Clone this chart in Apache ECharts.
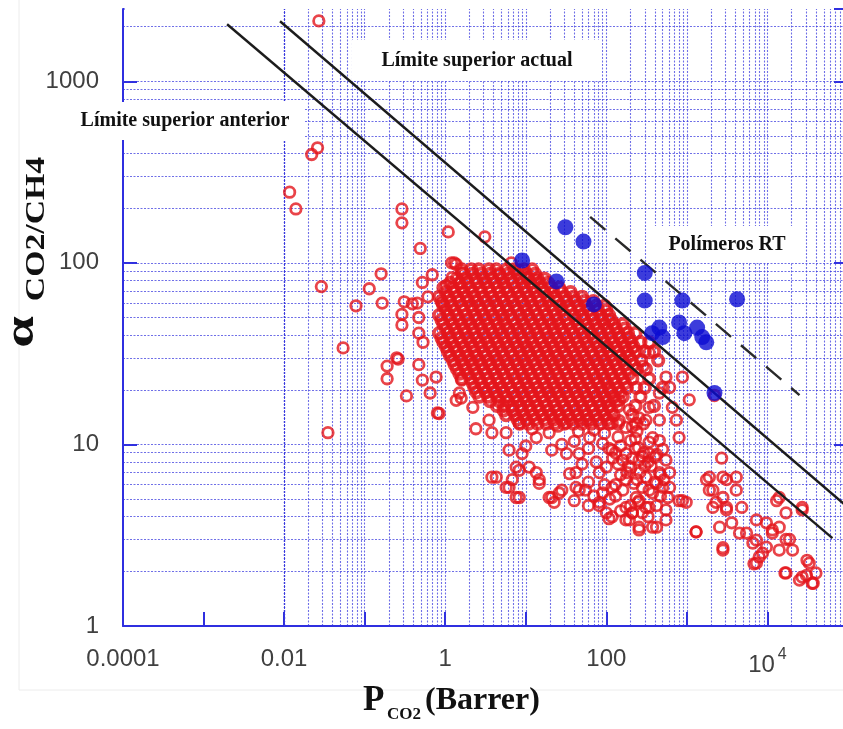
<!DOCTYPE html>
<html>
<head>
<meta charset="utf-8">
<script src="https://cdn.jsdelivr.net/npm/echarts@6/dist/echarts.min.js"></script>
<style>
html,body{margin:0;padding:0;background:#fff;}
#chart{width:843px;height:729px;}
</style>
</head>
<body>
<div id="chart"></div>
<script>
// ---------- axis ticks ----------
const xTickValues = [0.0001, 0.01, 1, 100, 10000];
const xTickLabels = ['0.0001', '0.01', '1', '100', '10^4'];
const yTickValues = [1, 10, 100, 1000];
const yTickLabels = ['1', '10', '100', '1000'];
const xMin = 0.0001, xMax = 100000;
const yMin = 1, yMax = 2500;

// ---------- boundary lines [P_CO2, alpha] ----------
const upperBound1991 = [[0.00196, 2060], [64100, 3.05]];
const upperBound2008 = [[0.0089, 2140], [100000, 4.5]];
const boundRT = [[63, 179], [25000, 18.7]];

// ---------- RT polymers (blue filled) [P_CO2, alpha] ----------
const rtPolymers = [[9.0,103],[31,157],[52,131],[24,79],[70,59],[300,88],[300,62],[880,62],[4200,63],
  [455,44],[500,39],[800,47],[930,41],[1340,44],[1550,39],[1740,36.5],[2200,19.2],[370,41]];

// ---------- other polymers (red open) [P_CO2, alpha] ----------
const redOutliers = [[0.027,2150],[0.022,395],[0.026,430],[0.0117,245],[0.014,198],[0.029,74],[0.054,34],
  [0.035,11.6],[0.078,58],[0.114,72],[0.16,87],[0.165,60],[0.29,198],[0.29,166],[0.49,120],[1.09,148],[3.1,139],
  [0.19,27],[0.19,23],[0.26,29.5],[0.33,18.5],[0.47,27.5],[0.52,22.6],[0.65,19.2],[0.8,14.9],[1.58,18],[1.6,22.6],
  [0.29,52],[0.29,45.5],[0.31,61],[0.45,60],[0.47,41],[0.53,36.5],[0.52,78],[0.69,86],[0.61,65],[0.39,59.5],
  [0.47,50],[0.77,23.5],[0.25,30],[1.2,100],[1.6,88],[1.37,98],[1.03,75],[0.92,60],[1.22,83],[1.5,77],
  [8.3,91],[10.4,83],[13.5,80],[4.7,86],[6.6,100],[1.3,100]];

// dense cluster, read row by row: [alpha, [P_CO2 ...]]
const clusterRows = [
  [92,  [1.6,2.1,2.6,3.5,4.3,5.8,7.2,9.5,12]],
  [87,  [1.7,2.2,2.8,3.6,4.7,6.0,7.9,10.2,13]],
  [82,  [1.4,1.8,2.4,3.0,3.8,5.1,6.4,8.6,10.5,14,17]],
  [77.5,[1.15,1.5,1.9,2.45,3.2,4.15,5.3,6.9,9.0,11.5,15,19]],
  [73,  [0.95,1.25,1.6,2.0,2.7,3.4,4.5,5.6,7.5,9.4,12.5,15.5,21,26]],
  [69,  [1.02,1.31,1.7,2.2,2.8,3.6,4.7,6.0,7.9,10.2,13,17,22,28,36]],
  [65,  [0.84,1.1,1.4,1.85,2.3,3.0,3.8,5.0,6.6,8.3,11,14,18.5,23,31,39,50]],
  [61.5,[0.9,1.15,1.5,1.92,2.45,3.2,4.15,5.3,6.9,9.0,11.5,14.9,19.2,24.5,32,41.5,53,69]],
  [58,  [0.95,1.2,1.6,2.1,2.6,3.5,4.4,5.8,7.3,9.6,12,16,20,27,34,45,56,75,95]],
  [55,  [1.02,1.31,1.7,2.2,2.8,3.6,4.7,6.0,7.9,10.2,13,17,22,28,36,47,60,79,100]],
  [51.5,[0.84,1.1,1.4,1.8,2.35,3.0,3.9,5.1,6.4,8.5,10.7,14,18,23.5,30,40,50,66,84,108]],
  [48.5,[0.9,1.15,1.5,1.92,2.45,3.2,4.15,5.3,6.9,9.0,11.5,14.9,19.2,24.5,32,41.5,53,69,89,115]],
  [46,  [0.95,1.25,1.6,2.05,2.7,3.4,4.5,5.6,7.5,9.4,12.5,16,21,26,34,44,58,73,95,125,160]],
  [43.5,[1.02,1.31,1.7,2.2,2.8,3.6,4.7,6.0,7.9,10.2,13,17,22,28,36,47,60,79,102,131,170]],
  [41,  [0.84,1.1,1.4,1.8,2.3,3.0,3.9,5.0,6.6,8.3,11,14,18,23,30,39,51,65,85,108,140,185,230]],
  [38.5,[0.9,1.15,1.5,1.92,2.45,3.2,4.15,5.3,6.9,9.0,11.5,14.9,19.2,24.5,32,41.5,53,69,89,115,149,192]],
  [36.5,[0.95,1.2,1.6,2.05,2.7,3.4,4.4,5.7,7.4,9.5,12,16,20.5,27,34,44,57,75,95,122,160,205,265,340]],
  [34.5,[1.02,1.31,1.7,2.2,2.8,3.6,4.7,6.0,7.9,10.2,13,17,22,28,36,47,60,79,102,131,170,218]],
  [32.5,[1.08,1.4,1.8,2.3,3.0,3.9,5.0,6.5,8.4,10.8,14,18,23,30,39,50,65,84,108,140,180,235,300,390]],
  [30.7,[1.15,1.5,1.92,2.45,3.2,4.15,5.3,6.9,9.0,11.5,14.9,19.2,24.5,32,41.5,53,69,89,115,149,192]],
  [29,  [1.25,1.6,2.05,2.65,3.4,4.4,5.7,7.4,9.5,12.3,16,20.5,26.5,34,44,57,74,95,123,160,205,270,440]],
  [27.5,[1.31,1.7,2.2,2.8,3.6,4.7,6.0,7.9,10.2,13,17,22,28,36,47,60,79,102,131,170,218]],
  [26,  [1.4,1.8,2.3,3.0,3.9,5.0,6.5,8.4,10.8,14,18,23,30,39,50,65,84,108,140,180,240,310]],
  [24.5,[1.5,1.92,2.45,3.2,4.15,5.3,6.9,9.0,11.5,14.9,19.2,24.5,32,41.5,53,69,89,115,149,192]],
  [23,  [1.6,2.05,2.65,3.4,4.4,5.7,7.4,9.5,12.3,16,20.5,26.5,34,44,57,74,95,123,160,210,340]],
  [21.7,[2.2,2.8,3.6,4.7,6.0,7.9,10.2,13,17,22,28,36,47,60,79,102,131,170]],
  [20.5,[2.3,3.0,3.9,5.0,6.5,8.4,10.8,14,18,23,30,39,50,65,84,108,140,180,235,300,500]],
  [19.4,[2.45,3.2,4.15,5.3,6.9,9.0,11.5,14.9,19.2,24.5,32,41.5,53,69,89,115,149]],
  [18.3,[2.65,3.4,4.4,5.7,7.4,9.5,12.3,16,20.5,26.5,34,44,57,74,95,123,160,265]],
  [17.3,[3.6,4.7,6.0,7.9,10.2,13,17,22,28,36,47,60,79,102,131]],
  [16.3,[4.4,5.4,6.8,8.6,11,14,18,23,30,39,50,65,84,108,140,230,390]],
  [15.4,[5.3,6.9,9.0,11.5,14.9,19.2,24.5,32,41.5,53,69,89,115]],
  [14.5,[5.7,7.4,9.5,12.3,16,20.5,26.5,34,44,57,74,95,123,210]],
  [13.7,[7.9,10.2,13,17,22,28,36,47,60,79,102]],
  [13,  [8.4,10.8,14,18,23,30,39,50,65,84,108,140,235]]
];

const redLower = [[2.4,12.2],[3.8,11.6],[5.7,11.6],[8.3,13.1],[6.2,9.3],[9,8.9],[7.6,7.5],[4.3,6.6],[6.2,5.8],
  [8.3,5.1],[13.5,7],[14.7,6.1],[19.5,5.1],[22.5,4.8],[26,5.4],[13.5,10.9],[19.5,11.6],[21,9.3],[32,8.9],[46,8.9],
  [42,5.8],[42,7],[62,10.9],[90,10.1],[118,9.3],[175,8.9],[255,8.2],[82,7],[118,5.8],[175,6.4],[82,4.8],[210,4.2],
  [56,13.6],[32,13.1],[118,13.1],[175,12.4],[310,13.6],[375,10.9],[2.2,16],[1.5,19.2],[0.84,14.8],[3.5,13.6],
  [1.37,17.5],[310,6.6],[375,5.4],[310,4.5],[175,4.5],[100,4.2],
  [3.8,6.6],[5.7,5.8],[7.6,5.1],[11,7.5],[14.7,6.4],[21,5.1],[28,5.6],[8.3,7.2],[6.8,6.4],
  [46,5.6],[82,4.6],[108,3.9],[193,3.84],[255,3.38],[420,3.5],[550,3.84],[235,5.1],[340,5.6],[455,7],
  [800,4.9],[980,4.8],[1300,3.3],
  [70,12],[95,11.5],[140,11],[200,10.5],[240,11.8],[150,9.8],[230,9.5],[290,9],[330,8],[400,8.5],[60,9.5],
  [75,8],[100,7.5],[140,7.8],[200,7.4],[260,7],[150,6.8],[220,6.1],[280,5.8],[400,6.2],[500,5.8],[130,5.2],
  [160,5.6],[250,4.8],[60,6.2],[35,6.9],[50,7.8],[28,10],[40,10.4],[10,9.8],[12,12.2],[25,12.6],[45,11.8],
  [130,9],[160,8.2],[190,7.6],[120,8.4],[250,9.6],[280,8.6],[210,8.4],[180,7],[240,6.4],[300,7.6],[360,7.6],
  [420,8.8],[500,9.4],[470,6.8],[520,6.4],[580,5.1],[470,5.2],[420,4.6],[330,4],[280,4.2],[200,4.6],[150,4.3],
  [130,6],[95,6],[110,5],[90,5.4],[70,5.2],[60,4.6],[55,5.6],[40,4.9]];

const redRight = [[108,48],[145,39],[210,34],[340,32],[285,27],[550,23.5],[610,20.6],[880,23.5],[1070,17.6],
  [455,19.2],[660,16],[740,13.6],[455,13.6],[340,16],[800,10.9],[455,10.5],[340,8.9],[550,8.2],[610,7],[420,6.1],
  [610,5.8],[880,4.9],[550,4.36],[255,4.9],[340,4.5],[210,4.2],[255,3.5],[375,3.5],[118,4],[175,3.84],[1300,3.3],
  [2700,8.4],[1900,6.6],[2800,6.6],[4100,6.6],[1900,5.6],[2800,5.1],[4100,5.6],[4800,4.5],[3100,4.36],[2300,4.8],
  [3600,3.7],[5500,3.25],[7300,3.84],[9700,3.7],[11500,3.25],[14000,5.1],[27000,4.5],[17000,4.2],[14000,3.5],
  [18800,3.0],[14000,2.62],[9700,2.72],[7300,2.22],[8700,2.52],[17000,1.96],[27000,1.86],[33000,2.22],
  [40000,1.96],[37000,1.72],[25000,1.79],[2800,2.62],[7300,2.97],
  [1750,6.4],[2100,5.6],[3100,6.4],[2100,4.5],[3100,4.5],[4500,3.25],[2550,3.5],[2800,2.7],[6600,2.86],
  [7900,2.4],[6800,2.2],[11500,3.38],[17000,3.0],[20500,2.62],[13000,4.9],[27000,4.36],[16500,1.96],
  [30500,1.9],[36000,1.72],[31000,2.3],
  [108,20],[145,17.5],[193,15.5],[255,14],[108,16],[145,13.5],[210,12.5],[290,13],[340,10.3],[230,10.8],
  [108,9.5],[2200,18.6]];

// ---------- build ----------
const clusterPoints = [];
clusterRows.forEach(r => r[1].forEach(p => clusterPoints.push([p, r[0]])));
const redScattered = redOutliers.concat(redLower, redRight);

// log grid positions (grid lines only)
const gridX = [], gridY = [];
for (let k = -4; k <= 4; k++) for (let m = 1; m <= 9; m++) {
  const v = m * Math.pow(10, k);
  if (v > xMin * 1.0001 && v <= xMax) gridX.push({xAxis: v});
}
gridX.push({xAxis: xMax});
for (let k = 0; k <= 3; k++) for (let m = 1; m <= 9; m++) {
  const v = m * Math.pow(10, k);
  if (v > yMin * 1.0001 && v < yMax) gridY.push({yAxis: v});
}

function tickIndex(vals, v) {
  for (let i = 0; i < vals.length; i++) if (Math.abs(Math.log10(v / vals[i])) < 1e-6) return i;
  return -1;
}
const AX = '#2f2fe0';
const GRIDC = 'rgba(55,55,222,0.72)';
const RED = '#e3151b';
const SERIF = '"Liberation Serif","Times New Roman",serif';
const SANS = '"Liberation Sans",Arial,sans-serif';

const chart = echarts.init(document.getElementById('chart'), null, {renderer: 'canvas'});
chart.setOption({
  animation: false,
  backgroundColor: '#fff',
  grid: {left: 123, top: 9, width: 725, height: 617, containLabel: false, outerBoundsMode: 'none'},
  xAxis: {
    type: 'log', logBase: 10, min: xMin, max: xMax,
    axisLine: {show: true, lineStyle: {color: AX, width: 2}},
    axisTick: {show: true, inside: true, length: 14, lineStyle: {color: AX, width: 2}},
    splitLine: {show: false},
    axisLabel: {
      margin: 21, fontSize: 24, color: '#404040', fontFamily: SANS, hideOverlap: false,
      formatter: function (v) {
        const i = tickIndex(xTickValues, v);
        if (i < 0) return '';
        const t = xTickLabels[i];
        if (t.indexOf('^') >= 0) { const p = t.split('^'); return '{b|' + p[0] + '}{s|' + p[1] + '}'; }
        return t;
      },
      rich: {
        b: {fontSize: 24, color: '#404040', fontFamily: SANS, verticalAlign: 'bottom', lineHeight: 30},
        s: {fontSize: 16, color: '#404040', fontFamily: SANS, verticalAlign: 'top', lineHeight: 30, padding: [0, 0, 0, 3]}
      }
    }
  },
  yAxis: [{
    type: 'log', logBase: 10, min: yMin, max: yMax,
    axisLine: {show: true, lineStyle: {color: AX, width: 2}},
    axisTick: {show: true, inside: true, length: 14, lineStyle: {color: AX, width: 2}},
    splitLine: {show: false},
    axisLabel: {
      margin: 24, fontSize: 24, color: '#404040', fontFamily: SANS,
      formatter: function (v) { const i = tickIndex(yTickValues, v); return i < 0 ? '' : yTickLabels[i]; }
    }
  }, {
    type: 'log', logBase: 10, min: yMin, max: yMax, position: 'right',
    axisLine: {show: true, lineStyle: {color: AX, width: 2}},
    axisTick: {show: true, inside: true, length: 14, lineStyle: {color: AX, width: 2}},
    splitLine: {show: false},
    axisLabel: {show: false}
  }],
  series: [
    {
      type: 'line', data: [], silent: true, z: 1,
      markLine: {
        silent: true, symbol: ['none', 'none'], label: {show: false}, animation: false, z: 1,
        lineStyle: {color: GRIDC, width: 1.1, type: [2, 1.5]},
        emphasis: {disabled: true},
        data: gridX.concat(gridY)
      }
    },
    {
      name: 'otros', type: 'scatter', data: redScattered, z: 3, symbol: 'circle', symbolSize: 10.5,
      itemStyle: {color: 'rgba(255,255,255,0)', borderColor: RED, borderWidth: 2.8},
      emphasis: {disabled: true}
    },
    {
      name: 'otros (núcleo)', type: 'scatter', data: clusterPoints, z: 3, symbol: 'circle', symbolSize: 10.4,
      itemStyle: {color: 'rgba(255,255,255,0)', borderColor: RED, borderWidth: 3.8},
      emphasis: {disabled: true}
    },
    {
      name: 'RT', type: 'scatter', data: rtPolymers, z: 5, symbol: 'circle', symbolSize: 16,
      itemStyle: {color: '#0b0bd2'}, emphasis: {disabled: true}
    },
    {
      type: 'line', data: upperBound1991, z: 4, symbol: 'none', silent: true,
      lineStyle: {color: '#1c1c1c', width: 2.4}
    },
    {
      type: 'line', data: upperBound2008, z: 4, symbol: 'none', silent: true,
      lineStyle: {color: '#1c1c1c', width: 2.4}
    },
    {
      type: 'line', data: boundRT, z: 4, symbol: 'none', silent: true,
      lineStyle: {color: '#2a2a2a', width: 2.4, type: [20, 13]}
    }
  ],
  graphic: [
    // faint outer frame
    {type: 'line', shape: {x1: 19, y1: 0, x2: 19, y2: 690}, style: {stroke: '#ececec', lineWidth: 1}, silent: true},
    {type: 'line', shape: {x1: 19, y1: 690, x2: 843, y2: 690}, style: {stroke: '#ececec', lineWidth: 1}, silent: true},
    // hide the extent tick that ECharts adds at the very top of the value axis
    {type: 'rect', shape: {x: 124.5, y: 7, width: 15, height: 4}, style: {fill: '#fff'}, z: 99, silent: true},
    // annotation boxes
    {type: 'rect', shape: {x: 70, y: 102, width: 235, height: 38}, style: {fill: '#fff'}, z: 100},
    {type: 'text', x: 185, y: 121, z: 101, style: {text: 'Límite superior anterior', fill: '#111', align: 'center', verticalAlign: 'middle', font: 'bold 20px ' + SERIF}},
    {type: 'rect', shape: {x: 352, y: 40, width: 250, height: 40}, style: {fill: '#fff'}, z: 100},
    {type: 'text', x: 477, y: 61, z: 101, style: {text: 'Límite superior actual', fill: '#111', align: 'center', verticalAlign: 'middle', font: 'bold 20px ' + SERIF}},
    {type: 'rect', shape: {x: 650, y: 226, width: 153, height: 37}, style: {fill: '#fff'}, z: 100},
    {type: 'text', x: 727, y: 245, z: 101, style: {text: 'Polímeros RT', fill: '#111', align: 'center', verticalAlign: 'middle', font: 'bold 20px ' + SERIF}},
    // y axis title (rotated)
    {type: 'group', x: 0, y: 0, rotation: Math.PI / 2, z: 101, children: [
      {type: 'text', x: -332, y: 22, scaleX: 1.35, style: {text: 'α', fill: '#111', align: 'center', verticalAlign: 'middle', font: 'bold 42px ' + SERIF}},
      {type: 'text', x: -229, y: 37, scaleX: 1.25, style: {text: 'CO2/CH4', fill: '#111', align: 'center', verticalAlign: 'middle', font: 'bold 27px ' + SERIF}}
    ]},
    // x axis title
    {type: 'text', x: 363, y: 701, z: 101, style: {text: 'P', fill: '#111', align: 'left', verticalAlign: 'middle', font: 'bold 35px ' + SERIF}},
    {type: 'text', x: 387, y: 715, z: 101, style: {text: 'CO2', fill: '#111', align: 'left', verticalAlign: 'middle', font: 'bold 17px ' + SERIF}},
    {type: 'text', x: 425, y: 701, z: 101, style: {text: '(Barrer)', fill: '#111', align: 'left', verticalAlign: 'middle', font: 'bold 32px ' + SERIF}}
  ]
});
</script>
</body>
</html>
